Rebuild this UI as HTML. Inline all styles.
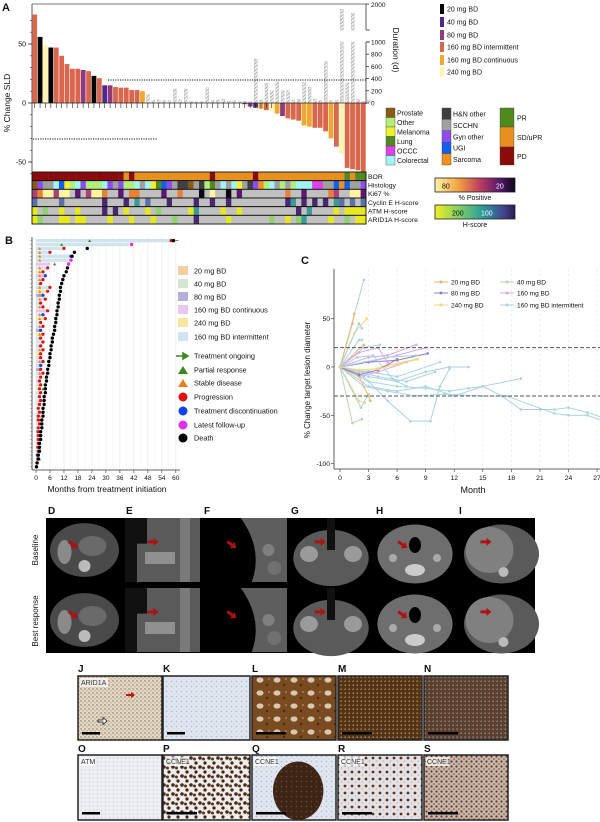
<!DOCTYPE html>
<html><head><meta charset="utf-8">
<style>
html,body{margin:0;padding:0;background:#fff;width:600px;height:822px;overflow:hidden}
svg{display:block;font-family:"Liberation Sans",Arial,sans-serif}
</style></head><body>
<svg id="fig" width="600" height="822" viewBox="0 0 600 822" xmlns="http://www.w3.org/2000/svg">
<defs>
<pattern id="hatch" width="2.5" height="2.5" patternUnits="userSpaceOnUse" patternTransform="rotate(45)"><rect width="2.5" height="2.5" fill="#f0f0f0"/><line x1="0" y1="0" x2="0" y2="2.5" stroke="#8a8a8a" stroke-width="1.1"/></pattern>
<linearGradient id="gKi" x1="0" x2="1"><stop offset="0" stop-color="#fff3a8"/><stop offset="0.3" stop-color="#f0a040"/><stop offset="0.55" stop-color="#c04060"/><stop offset="0.8" stop-color="#5a1870"/><stop offset="1" stop-color="#0c0618"/></linearGradient>
<linearGradient id="gH" x1="0" x2="1"><stop offset="0" stop-color="#f0f020"/><stop offset="0.35" stop-color="#70c870"/><stop offset="0.6" stop-color="#2a9a9a"/><stop offset="0.85" stop-color="#404890"/><stop offset="1" stop-color="#301850"/></linearGradient>
<pattern id="pJ" width="4" height="4" patternUnits="userSpaceOnUse"><rect width="4" height="4" fill="#e2d8c8"/><circle cx="1" cy="1" r="0.7" fill="#8a6a45"/><circle cx="3" cy="2.8" r="0.6" fill="#a88860"/></pattern>
<pattern id="pK" width="5" height="5" patternUnits="userSpaceOnUse"><rect width="5" height="5" fill="#e2e7ef"/><circle cx="1.5" cy="1.5" r="0.9" fill="#b0bedb"/><circle cx="4" cy="4" r="0.6" fill="#c4cde0"/></pattern>
<pattern id="pL" width="17" height="13" patternUnits="userSpaceOnUse"><rect width="17" height="13" fill="#7a4a20"/><ellipse cx="5" cy="4" rx="3.5" ry="2.6" fill="#d8cab2"/><circle cx="12" cy="9" r="1.2" fill="#4a2810"/><circle cx="14" cy="3" r="0.9" fill="#b09070"/></pattern>
<pattern id="pM" width="4" height="4" patternUnits="userSpaceOnUse"><rect width="4" height="4" fill="#553415"/><circle cx="1.2" cy="1.2" r="0.8" fill="#a88868"/></pattern>
<pattern id="pN" width="4" height="4" patternUnits="userSpaceOnUse"><rect width="4" height="4" fill="#5e4028"/><circle cx="1.2" cy="1.2" r="0.8" fill="#8090b0"/></pattern>
<pattern id="pO" width="4" height="4" patternUnits="userSpaceOnUse"><rect width="4" height="4" fill="#eceef2"/><circle cx="1.5" cy="2" r="0.7" fill="#c8d0e0"/></pattern>
<pattern id="pP" width="9" height="9" patternUnits="userSpaceOnUse"><rect width="9" height="9" fill="#efedeb"/><circle cx="2" cy="2" r="1.8" fill="#4a2a18"/><circle cx="5.5" cy="3" r="1.5" fill="#5a3220"/><circle cx="7" cy="7" r="1.6" fill="#3e2414"/></pattern>
<pattern id="pQ" width="5" height="5" patternUnits="userSpaceOnUse"><rect width="5" height="5" fill="#3e2414"/><circle cx="1.5" cy="1.5" r="0.8" fill="#6a4a38"/></pattern>
<pattern id="pR" width="7" height="7" patternUnits="userSpaceOnUse"><rect width="7" height="7" fill="#e3e1e4"/><circle cx="2" cy="2" r="1.4" fill="#5a3420"/><circle cx="5.5" cy="5" r="0.8" fill="#b0b8d0"/></pattern>
<pattern id="pS" width="5" height="5" patternUnits="userSpaceOnUse"><rect width="5" height="5" fill="#c6b6ae"/><circle cx="1.5" cy="1.5" r="1.1" fill="#6a3a20"/><circle cx="4" cy="4" r="0.8" fill="#7a4a30"/></pattern>
</defs>
</svg>
<script>
// ---------- DATA ----------
const wfValues=[75,56,49,47,47,40,33,29,29,28,27,23,21,15,15,13.5,13,13,11,11,10,
0,0,0,0,0,0,0,0,0,0,0,0,0,0,0,0,0,0,
-1,-3,-4,-5,-6,-7,-9,-11,-13,-14,-15,-19,-20,-21,-21,-24,-30,-37,-43,-55,-56,-57,-62];
const wfDose="IKYKIIIIIPIKIDPIIIIIC"+"CCCCCCCCCCCCCCCCCC"+"PPDCIYCPIIICCIIICIYIIIID";
const wfDuration=[10,12,15,8,10,10,12,10,10,10,12,10,12,10,10,50,40,30,20,100,90,
140,40,50,40,40,230,50,230,30,20,20,250,40,50,60,30,40,20,30,
20,720,50,320,200,350,200,200,50,60,340,260,60,40,680,40,50,1800,330,1650,60,30,50];
const durTicks=[0,200,400,600,800,1000];
const pctTicks=[50,0,-50];
const hmBOR="DDDDDDDDDDDDDDDDDSDSSSSSSSSSSSSSSDSSSSSSSDSSSSSSSSSSSSSSSSRSRRR";
const hmHist="pgssrumorgooorgsgoorsrmlugshhpsholsrsrmshgaorsosorrrccssuaussgs";
const hmKi="moyymyynpnmyyonnpnoonnnnpnnonnnknynnknpnnnnnnnnonnpnnnnomnnyypn";
const hmCyc="bnnnnbnnnnnnnpnnnpntnbnnnpnnnnpnnpnnpnnnnnnnnnnptnpnpnpntbnbnb";
const hmATM="yngnnynnynnnnpnpnynnnyngnnnnnytnnnnynnynnnnnnnnnnpntnnnnynyyyy";
const hmARID="ygnnnyynyynnnnynnnynnnynnngnnnpnnnnnynnnnnnngnnyngtnnnnynngnyy";

const swSurv=[59,41,22,16.5,15.5,15,14,13.5,13,12,11.5,11,10.5,10.5,10,10,9.5,9.5,9,9,8.5,8.5,8,8,7.5,7,7,6.5,6.5,6,6,5.5,5.5,5,5,4.5,4.5,4,4,4,3.5,3.5,3.5,3,3,3,2.5,2.5,2.5,2,2,2,1.5,1.5,1.5,1,1,0.5,0.2];
const swTx=[58,40,12,6,15,14,6,5,3,4,3,2,6,5,3,4,2,3,5,3,4,2,3,2,3,2,3,2,3,2,2,3,2,2,3,2,1.5,2,1.5,2,1.5,2,1.5,1,1.5,1,1,1.5,1,1,1,1,1,0.8,1,0.6,0.8,0.4,0.2];
const swDose="IIIICIVIYVICIYPIIIVIYCIPYICIIYCIIPIIVIYIIIGIIVIIIPIIYIIGIV";
const swBOR="RRSSSSRSSSSSSSSSSS-SS-SSSS-SSSSS-SS-SSRSSSS-SSSS--S-S---S--";
const swDisc="PFPPTFFPPTPPPPTPPPPTPPPTPPPPPPPPTPPPPPPPPPPPPPPPPPPPPPPTPPP";
const swPR=[[0,23],[1,11],[6,8],[38,3]];
const swTicks=[0,6,12,18,24,30,36,42,48,54,60];

const spDose=["I","O","Y","I","I","O","I","V","V","P","I","Y","I","I","I","I","I","I","G","Y","I","V","I","O","V","I","P","Y"];
const spSeries=[
[[0,0],[2.5,90]],
[[0,0],[1.3,45],[1.5,55]],
[[0,0],[1.5,35],[2.8,50]],
[[0,0],[2,45],[2.3,40]],
[[0,0],[2,28],[2.3,28]],
[[0,0],[2.5,23]],
[[0,0],[2.5,20],[4.2,23]],
[[0,0],[3,10],[5,12],[8,23]],
[[0,0],[3,5],[6,12],[9,20]],
[[0,0],[3,5],[6,7],[9.2,14]],
[[0,0],[2.5,5],[5,10],[8,12]],
[[0,0],[2.5,-5],[5,2],[8,8]],
[[0,0],[3,-5],[6,-10],[10.5,5]],
[[0,0],[3,-10],[6,-15],[9,-5],[11.5,0],[13.5,0]],
[[0,0],[3,-15],[6,-20],[9,-22],[11.5,-25],[13.5,-22],[15,-20],[19,-12]],
[[0,0],[3,-20],[6,-25],[9,-20],[12,-30],[15,-20],[17,-30],[19,-44],[21,-44],[22.5,-44],[24,-42],[26,-47],[27.5,-52]],
[[0,0],[2.5,-20],[5,-25],[8,-30],[11,-28],[15,-30],[17.5,-30],[22.5,-48],[24,-50],[26,-50],[27.5,-55]],
[[0,0],[2.5,-10],[5,-35],[7.4,-56],[9.5,-56],[10.5,-20],[11.5,-2]],
[[0,0],[1.3,-58],[2.3,-54]],
[[0,0],[2,-35],[2.6,-37]],
[[0,0],[2.2,-42],[3,-28]],
[[0,0],[2,-10],[4,-5],[7,5]],
[[0,0],[2,-5],[4,-10],[7,-15],[10,-5]],
[[0,0],[2,-10],[3,-30],[3.2,-35]],
[[0,0],[2,15],[4,20],[5,5]],
[[0,0],[1.8,10],[3.5,12],[5.5,-12],[7,-20]],
[[0,0],[2,-8],[4,-3],[6,8]],
[[0,0],[2,-3],[4,-2],[8.2,8]]];
const spYTicks=[50,0,-50,-100];
const spXTicks=[0,3,6,9,12,15,18,21,24,27];

// ---------- HELPERS ----------
const NS='http://www.w3.org/2000/svg';
const svg=document.getElementById('fig');
function add(parent,tag,attrs,name,inter){
  const el=document.createElementNS(NS,tag);
  for(const k in attrs) el.setAttribute(k,attrs[k]);
  
  
  parent.appendChild(el); return el;
}
function txt(p,x,y,s,size,name,extra){
  const t=add(p,'text',Object.assign({x:x,y:y,'font-size':size,fill:'#111'},extra||{}),name);
  t.textContent=s; return t;
}
function grp(name){return add(svg,'g',{},name);}

// ---------- PANEL A ----------
const A=grp('panel-a');
txt(A,2,11,'A',11,'panel-label-a',{'font-weight':'bold'});
const doseCol={K:'#000000',D:'#4b2a8c',P:'#8e3b7e',I:'#d9674e',C:'#f0a830',Y:'#fff5b0'};
const ax0=32,ax1=366,n=wfValues.length,bw=(ax1-ax0)/n;
function yPct(v){return 103-v*1.18;}
function yDur(v){return v<=1000?103-v*0.061:30-(v-1000)*0.026;}
add(A,'line',{x1:ax0,y1:4,x2:ax1,y2:4,stroke:'#777','stroke-width':1},'plot-top-border');
add(A,'line',{x1:ax0,y1:4,x2:ax0,y2:172,stroke:'#333','stroke-width':0.8},'y-axis-sld');
for(let v=-60;v<=70;v+=10){add(A,'line',{x1:ax0-2,y1:yPct(v),x2:ax0,y2:yPct(v),stroke:'#333','stroke-width':0.6},'y-minor-tick');}
pctTicks.forEach(v=>{add(A,'line',{x1:ax0-4,y1:yPct(v),x2:ax0,y2:yPct(v),stroke:'#333','stroke-width':0.8},'y-tick');
 txt(A,ax0-6,yPct(v)+2.5,String(v),7,'y-tick-label',{'text-anchor':'end'});});
txt(A,10,103,'% Change SLD',8.5,'y-axis-title',{'text-anchor':'middle',transform:'rotate(-90 10 103)'});
wfDuration.forEach((d,i)=>{
  const x=ax0+i*bw+bw*0.25,w=bw*0.55;
  if(d<=1000){add(A,'rect',{x:x,y:yDur(d),width:w,height:103-yDur(d),fill:'url(#hatch)',stroke:'#aaa','stroke-width':0.3},'duration-bar');}
  else{add(A,'rect',{x:x,y:42,width:w,height:61,fill:'url(#hatch)',stroke:'#aaa','stroke-width':0.3},'duration-bar');
   add(A,'rect',{x:x,y:yDur(d),width:w,height:30-yDur(d),fill:'url(#hatch)',stroke:'#aaa','stroke-width':0.3},'duration-bar-upper');}
});
wfValues.forEach((v,i)=>{
  if(v===0) return;
  const x=ax0+i*bw+0.3,w=bw-0.6,y=Math.min(yPct(v),103),h=Math.abs(yPct(v)-103);
  add(A,'rect',{x:x,y:y,width:w,height:Math.min(h,172-y),fill:doseCol[wfDose[i]]||'#d9674e'},'sld-bar');
});
for(let i=0;i<45;i++){const x=ax0+(i+0.5)*bw;add(A,'line',{x1:x,y1:103,x2:x,y2:108,stroke:'#222','stroke-width':0.6},'bar-tick');}
add(A,'line',{x1:ax0,y1:103,x2:ax1,y2:103,stroke:'#222','stroke-width':0.8},'zero-line');
add(A,'line',{x1:108,y1:80,x2:ax1,y2:80,stroke:'#111','stroke-width':1,'stroke-dasharray':'1.2,1.2'},'pd-threshold-line');
add(A,'line',{x1:33,y1:139,x2:157,y2:139,stroke:'#111','stroke-width':1,'stroke-dasharray':'1.2,1.2'},'pr-threshold-line');
add(A,'line',{x1:ax1,y1:42,x2:ax1,y2:104,stroke:'#333','stroke-width':0.8},'duration-axis');
add(A,'line',{x1:ax1,y1:4,x2:ax1,y2:30,stroke:'#333','stroke-width':0.8},'duration-axis-upper');
add(A,'line',{x1:ax1,y1:30,x2:ax1+4,y2:30,stroke:'#333','stroke-width':0.8},'axis-break');
add(A,'line',{x1:ax1,y1:42,x2:ax1+4,y2:42,stroke:'#333','stroke-width':0.8},'axis-break');
durTicks.forEach(v=>{add(A,'line',{x1:ax1,y1:yDur(v),x2:ax1+3,y2:yDur(v),stroke:'#333','stroke-width':0.8},'duration-tick');
 txt(A,ax1+5,yDur(v)+2.5,String(v),6.5,'duration-tick-label');});
add(A,'line',{x1:ax1,y1:4,x2:ax1+3,y2:4,stroke:'#333','stroke-width':0.8},'duration-tick');
txt(A,ax1+5,7,'2000',6.5,'duration-tick-label');
txt(A,393,50,'Duration (d)',8.5,'duration-axis-title',{'text-anchor':'middle',transform:'rotate(90 393 50)'});
const doseLeg=[['K','20 mg BD'],['D','40 mg BD'],['P','80 mg BD'],['I','160 mg BD intermittent'],['C','160 mg BD continuous'],['Y','240 mg BD']];
const dlY=[9,22,35,47,60,72];
doseLeg.forEach((d,i)=>{add(A,'rect',{x:440,y:dlY[i]-5,width:4,height:10,fill:doseCol[d[0]]},'dose-legend-swatch');
 txt(A,447,dlY[i]+2.5,d[1],7,'dose-legend-label');});
const histCol={p:'#8b5a14',o:'#b0f07a',m:'#f0f030',l:'#4e8a1e',c:'#e040e8',r:'#a0f4f4',h:'#404040',s:'#a0a0a0',g:'#8c4cf0',u:'#1060f0',a:'#f0901e'};
const borCol={D:'#8b0a0a',S:'#e8901e',R:'#4e8a1e'};
const kiCol={n:'#c0c0c0',y:'#fff4a0',o:'#e8803a',m:'#b0407a',p:'#5a1870',k:'#0a0a14'};
const hCol={n:'#c0c0c0',y:'#e8e820',g:'#90d070',p:'#4a2870',t:'#3a9a98',b:'#5a70a8'};
const rows=[[hmBOR,borCol,'BOR'],[hmHist,histCol,'Histology'],[hmKi,kiCol,'Ki67 %'],[hmCyc,hCol,'Cyclin E H-score'],[hmATM,hCol,'ATM H-score'],[hmARID,hCol,'ARID1A H-score']];
const rh=8.67;
rows.forEach((r,ri)=>{
  const y=172+ri*rh, s=r[0].padEnd(n,'n');
  for(let i=0;i<n;i++){add(A,'rect',{x:ax0+i*bw,y:y,width:bw+0.2,height:rh,fill:r[1][s[i]]||'#c0c0c0'},'heatmap-cell');}
  add(A,'rect',{x:ax0,y:y,width:ax1-ax0,height:rh,fill:'none',stroke:'#111','stroke-width':0.9},'heatmap-row-border');
  txt(A,368,y+rh/2+2.5,r[2],6.8,'heatmap-row-label');
});
const hl1=[['p','Prostate'],['o','Other'],['m','Melanoma'],['l','Lung'],['c','OCCC'],['r','Colorectal']];
hl1.forEach((h,i)=>{const y=108+i*9.5;add(A,'rect',{x:386,y:y,width:9,height:9.5,fill:histCol[h[0]],stroke:'#444','stroke-width':0.4},'histology-legend-swatch');
 txt(A,397,y+7.5,h[1],7,'histology-legend-label');});
const hl2=[['h','H&N other'],['s','SCCHN'],['g','Gyn other'],['u','UGI'],['a','Sarcoma']];
hl2.forEach((h,i)=>{const y=108+i*11.4;add(A,'rect',{x:442,y:y,width:9,height:11.4,fill:histCol[h[0]],stroke:'#444','stroke-width':0.4},'histology-legend-swatch');
 txt(A,453,y+8.5,h[1],7,'histology-legend-label');});
const hl3=[['R','PR',19],['S','SD/uPR',20],['D','PD',18]];
let yy=108;hl3.forEach(h=>{add(A,'rect',{x:500,y:yy,width:14,height:h[2],fill:borCol[h[0]],stroke:'#444','stroke-width':0.4},'bor-legend-swatch');
 txt(A,517,yy+h[2]/2+3,h[1],7,'bor-legend-label');yy+=h[2];});
add(A,'rect',{x:435,y:178,width:80,height:14,fill:'url(#gKi)',stroke:'#222','stroke-width':0.8},'ki67-colorbar');
txt(A,442,188.5,'80',7,'colorbar-label');txt(A,496,188.5,'20',7,'colorbar-label',{fill:'#fff'});
txt(A,475,200,'% Positive',7,'colorbar-title',{'text-anchor':'middle'});
add(A,'rect',{x:435,y:205,width:80,height:14,fill:'url(#gH)',stroke:'#222','stroke-width':0.8},'hscore-colorbar');
txt(A,452,215.5,'200',7,'colorbar-label');txt(A,481,215.5,'100',7,'colorbar-label',{fill:'#fff'});
txt(A,475,227,'H-score',7,'colorbar-title',{'text-anchor':'middle'});

// ---------- PANEL B ----------
const B=grp('panel-b');
txt(B,5,244,'B',11,'panel-label-b',{'font-weight':'bold'});
const swCol={O:'#f5cfa0',G:'#d4e6cf',P:'#b3b0e0',V:'#e8c8f0',Y:'#fbe6a0',I:'#cfe4ee'};
function xM(m){return 36+m*2.33;}
swTicks.forEach(t=>{add(B,'line',{x1:xM(t),y1:237,x2:xM(t),y2:470,stroke:'#e6e6e6','stroke-width':0.6},'x-gridline');
 add(B,'line',{x1:xM(t),y1:470,x2:xM(t),y2:473,stroke:'#333','stroke-width':0.6},'x-tick');
 txt(B,xM(t),480,String(t),6.5,'x-tick-label',{'text-anchor':'middle'});});
for(let t=3;t<60;t+=6){add(B,'line',{x1:xM(t),y1:237,x2:xM(t),y2:470,stroke:'#f0f0f0','stroke-width':0.5},'x-minor-gridline');}
add(B,'line',{x1:32,y1:237,x2:32,y2:470,stroke:'#333','stroke-width':0.8},'y-axis');
add(B,'line',{x1:32,y1:470,x2:180,y2:470,stroke:'#333','stroke-width':0.8},'x-axis');
txt(B,107,492,'Months from treatment initiation',8.5,'x-axis-title',{'text-anchor':'middle'});
const rowH=3.9;
swSurv.forEach((s,i)=>{
  const y=239+i*rowH;
  add(B,'line',{x1:30,y1:y+1.6,x2:32,y2:y+1.6,stroke:'#555','stroke-width':0.4},'row-tick');
  add(B,'rect',{x:36,y:y,width:xM(swTx[i])-36,height:3.3,fill:swCol[swDose[i]]||swCol.I},'treatment-bar');
  if(swBOR[i]==='S') add(B,'path',{d:`M${xM(1.6)-1.6},${y+3} L${xM(1.6)+1.6},${y+3} L${xM(1.6)},${y+0.2} Z`,fill:'#e8801e'},'stable-disease-marker');
  const dc=swDisc[i]==='T'?'#1040f0':(swDisc[i]==='F'?null:'#e01010');
  if(dc) add(B,'circle',{cx:xM(swTx[i]),cy:y+1.6,r:1.6,fill:dc},'discontinuation-marker');
  const fu=swDisc[i]==='F';
  add(B,'circle',{cx:xM(s),cy:y+1.6,r:1.7,fill:fu?'#e030e8':'#000'},fu?'follow-up-marker':'death-marker');
});
swPR.forEach(p=>{const y=239+p[0]*rowH,x=xM(p[1]);add(B,'path',{d:`M${x-1.6},${y+3} L${x+1.6},${y+3} L${x},${y+0.2} Z`,fill:'#3a8a1e'},'partial-response-marker');});
add(B,'path',{d:`M${xM(59)+2},${239+1.6} l3,0`,stroke:'#3a8a1e','stroke-width':0.8},'ongoing-arrow');
const bl=[['O','20 mg BD'],['G','40 mg BD'],['P','80 mg BD'],['V','160 mg BD continuous'],['Y','240 mg BD'],['I','160 mg BD intermittent']];
const blY=[271,284,297,310,323,337];
bl.forEach((b,i)=>{add(B,'rect',{x:178,y:blY[i]-5,width:10,height:9,fill:swCol[b[0]]},'swimmer-legend-swatch');
 txt(B,194,blY[i]+2.5,b[1],7.3,'swimmer-legend-label');});
add(B,'path',{d:'M176,356 L186,356 M183,353 L188,356 L183,359 Z',stroke:'#3a8a1e','stroke-width':1.5,fill:'#3a8a1e'},'legend-arrow');
txt(B,194,358.5,'Treatment ongoing',7.3,'swimmer-legend-label');
add(B,'path',{d:'M178,374 L188,374 L183,366 Z',fill:'#3a8a1e'},'legend-triangle-pr');
txt(B,194,372.5,'Partial response',7.3,'swimmer-legend-label');
add(B,'path',{d:'M178,387 L188,387 L183,379 Z',fill:'#e8801e'},'legend-triangle-sd');
txt(B,194,385.5,'Stable disease',7.3,'swimmer-legend-label');
[['#e01010','Progression',397],['#1040f0','Treatment discontinuation',411],['#e030e8','Latest follow-up',425],['#000','Death',438]].forEach(c=>{
 add(B,'circle',{cx:183,cy:c[2],r:4.5,fill:c[0]},'legend-circle');txt(B,194,c[2]+2.5,c[1],7.3,'swimmer-legend-label');});

// ---------- PANEL C ----------
const C=grp('panel-c');
txt(C,301,264,'C',11,'panel-label-c',{'font-weight':'bold'});
const spCol={O:'#f2b36b',G:'#b6d7a8',P:'#8c7dd1',V:'#d9a7e8',Y:'#f5d77a',I:'#a9d3e3'};
function cx(m){return 340+m*9.52;}
function cy(v){return 367-v*0.967;}
spXTicks.forEach(t=>{if(t>0)add(C,'line',{x1:cx(t),y1:269,x2:cx(t),y2:469,stroke:'#e8e8e8','stroke-width':0.6,'stroke-dasharray':'3,2'},'x-gridline');
 add(C,'line',{x1:cx(t),y1:469,x2:cx(t),y2:472,stroke:'#333','stroke-width':0.6},'x-tick');
 txt(C,cx(t),480,String(t),6.8,'x-tick-label',{'text-anchor':'middle'});});
add(C,'line',{x1:334,y1:269,x2:334,y2:469,stroke:'#333','stroke-width':0.8},'y-axis');
add(C,'line',{x1:334,y1:469,x2:600,y2:469,stroke:'#333','stroke-width':0.8},'x-axis');
spYTicks.forEach(v=>{add(C,'line',{x1:331,y1:cy(v),x2:334,y2:cy(v),stroke:'#333','stroke-width':0.6},'y-tick');
 txt(C,330,cy(v)+2.5,String(v),6.8,'y-tick-label',{'text-anchor':'end'});});
txt(C,473,493,'Month',9,'x-axis-title',{'text-anchor':'middle'});
txt(C,310,380,'% Change target lesion diameter',8,'y-axis-title',{'text-anchor':'middle',transform:'rotate(-90 310 380)'});
spSeries.forEach((s,i)=>{
  const col=spCol[spDose[i]];
  add(C,'polyline',{points:s.map(p=>cx(p[0])+','+cy(p[1])).join(' '),fill:'none',stroke:col,'stroke-width':1},'spider-line');
  s.forEach(p=>{add(C,'circle',{cx:cx(p[0]),cy:cy(p[1]),r:1.3,fill:col},'spider-point');});
});
add(C,'line',{x1:334,y1:cy(20),x2:600,y2:cy(20),stroke:'#555','stroke-width':1,'stroke-dasharray':'4,2'},'pd-threshold-line');
add(C,'line',{x1:334,y1:cy(-30),x2:600,y2:cy(-30),stroke:'#555','stroke-width':1,'stroke-dasharray':'4,2'},'pr-threshold-line');
const cl=[['O','20 mg BD',434,282],['G','40 mg BD',500,282],['P','80 mg BD',434,293],['V','160 mg BD',500,293],['Y','240 mg BD',434,305],['I','160 mg BD intermittent',500,305]];
cl.forEach(c=>{add(C,'line',{x1:c[2],y1:c[3],x2:c[2]+14,y2:c[3],stroke:spCol[c[0]],'stroke-width':1},'spider-legend-line');
 add(C,'circle',{cx:c[2]+7,cy:c[3],r:1.5,fill:spCol[c[0]]},'spider-legend-marker');
 txt(C,c[2]+17,c[3]+2.3,c[1],6.5,'spider-legend-label');});

// ---------- PANELS D-I (CT) ----------
const D=grp('panels-d-i-ct');
const ctX=[46,124,202,289,374,457,535];
['D','E','F','G','H','I'].forEach((l,i)=>txt(D,ctX[i]+2,514,l,10,'panel-label-'+l.toLowerCase(),{'font-weight':'bold'}));
add(D,'rect',{x:46,y:518,width:489,height:135,fill:'#000'},'ct-background');
txt(D,38,550,'Baseline',8,'row-label-baseline',{'text-anchor':'middle',transform:'rotate(-90 38 550)'});
txt(D,38,621,'Best response',8,'row-label-best-response',{'text-anchor':'middle',transform:'rotate(-90 38 621)'});
[[518,582],[588,652]].forEach((r,ri)=>{
 for(let i=0;i<6;i++){
  const x=ctX[i]+1,w=ctX[i+1]-ctX[i]-3,y=r[0],h=r[1]-r[0],mx=x+w/2,my=y+h/2;
  const g=add(D,'g',{},'ct-image');
  if(i===0){add(g,'ellipse',{cx:mx,cy:my,rx:w*0.46,ry:h*0.42,fill:'#4a4a4a'},'ct-body');add(g,'ellipse',{cx:mx+8,cy:my-4,rx:14,ry:10,fill:'#6a6a6a'},'ct-bowel');add(g,'ellipse',{cx:mx-20,cy:my+2,rx:7,ry:12,fill:'#8a8a8a'},'ct-organ');add(g,'circle',{cx:mx,cy:my+16,r:6,fill:'#bbb'},'ct-spine');}
  else if(i===1){add(g,'rect',{x:x,y:y,width:w,height:h,fill:'#5a5a5a'},'ct-body');add(g,'path',{d:`M${x},${y} h22 v${h*0.4} h-10 v${h*0.6} h-12 Z`,fill:'#111'},'ct-airway');add(g,'rect',{x:x+w-20,y:y,width:10,height:h,fill:'#7a7a7a'},'ct-spine');add(g,'rect',{x:x+20,y:my+2,width:30,height:12,fill:'#909090'},'ct-structure');}
  else if(i===2){add(g,'path',{d:`M${x+w*0.45},${y} Q${x+w*0.72},${my} ${x+w*0.58},${y+h} L${x+w},${y+h} L${x+w},${y} Z`,fill:'#5e5e5e'},'ct-body');add(g,'circle',{cx:x+w*0.78,cy:my,r:6,fill:'#808080'},'ct-node');add(g,'circle',{cx:x+w*0.85,cy:my+18,r:7,fill:'#707070'},'ct-node');}
  else if(i===3){add(g,'ellipse',{cx:mx,cy:my+8,rx:w*0.46,ry:h*0.44,fill:'#5a5a5a'},'ct-body');add(g,'rect',{x:mx-4,y:y,width:8,height:h*0.5,fill:'#111'},'ct-airway');add(g,'ellipse',{cx:mx-22,cy:my+4,rx:9,ry:8,fill:'#9a9a9a'},'ct-bone');add(g,'ellipse',{cx:mx+22,cy:my+4,rx:9,ry:8,fill:'#9a9a9a'},'ct-bone');}
  else if(i===4){add(g,'ellipse',{cx:mx,cy:my+4,rx:w*0.47,ry:h*0.46,fill:'#6e6e6e'},'ct-body');add(g,'ellipse',{cx:mx,cy:my-5,rx:6,ry:8,fill:'#000'},'ct-airway');add(g,'ellipse',{cx:mx,cy:my+20,rx:10,ry:6,fill:'#ccc'},'ct-spine');add(g,'circle',{cx:mx-22,cy:my+8,r:4,fill:'#aaa'},'ct-vessel');add(g,'circle',{cx:mx+22,cy:my+8,r:4,fill:'#aaa'},'ct-vessel');}
  else {add(g,'ellipse',{cx:mx+6,cy:my+4,rx:w*0.5,ry:h*0.46,fill:'#5a5a5a'},'ct-body');add(g,'ellipse',{cx:mx-6,cy:my,rx:w*0.32,ry:h*0.36,fill:'#808080'},'ct-liver');add(g,'circle',{cx:mx+8,cy:my+22,r:5,fill:'#bbb'},'ct-spine');}
  const ax=x+w*0.3,ay=y+h*0.35;
  add(g,'path',{d:`M${ax},${ay} l6,0 l0,-2.5 l5,4 l-5,4 l0,-2.5 l-6,0 Z`,fill:'#b01010',transform:`rotate(${i%2?0:35} ${ax} ${ay})`},'red-arrow');
 }
});

// ---------- PANELS J-S (IHC) ----------
const J=grp('panels-j-s-ihc');
const ihX=[78,163,252,338,424],ihW=[84,87,84,84,84];
const r1=[['J','pJ','ARID1A'],['K','pK',''],['L','pL',''],['M','pM',''],['N','pN','']];
const r2=[['O','pO','ATM'],['P','pP','CCNE1'],['Q','pK','CCNE1'],['R','pR','CCNE1'],['S','pS','CCNE1']];
[[r1,676,64,672],[r2,755,65,752]].forEach(row=>{
 row[0].forEach((c,i)=>{
  const x=ihX[i],y=row[1],w=ihW[i],h=row[2];
  txt(J,x,row[3],c[0],10,'panel-label-'+c[0].toLowerCase(),{'font-weight':'bold'});
  add(J,'rect',{x:x,y:y,width:w,height:h,fill:'url(#'+c[1]+')',stroke:'#222','stroke-width':1.5},'ihc-image');
  if(c[0]==='Q') add(J,'ellipse',{cx:x+w*0.55,cy:y+h*0.55,rx:w*0.3,ry:h*0.45,fill:'url(#pQ)'},'ihc-tumor-nest');
  if(c[2]) {add(J,'rect',{x:x+2,y:y+2,width:c[2].length*4.3+2,height:9,fill:'#fff',opacity:0.7},'ihc-label-bg');txt(J,x+3,y+9,c[2],7,'ihc-marker-label',{fill:'#333'});}
  const sw=(i<2&&row[1]===676)||c[0]==='O'?18:30;
  add(J,'rect',{x:x+4,y:y+h-8,width:sw,height:2.5,fill:'#000'},'scale-bar');
 });
});
add(J,'path',{d:'M126,694 l5,0 l0,-2 l4,3 l-4,3 l0,-2 l-5,0 Z',fill:'#c01010'},'red-arrow');
add(J,'path',{d:'M98,720 l5,0 l0,-2.5 l4,3.5 l-4,3.5 l0,-2.5 l-5,0 Z',fill:'#fff',stroke:'#000','stroke-width':0.7},'open-arrow');
</script>
</body></html>
